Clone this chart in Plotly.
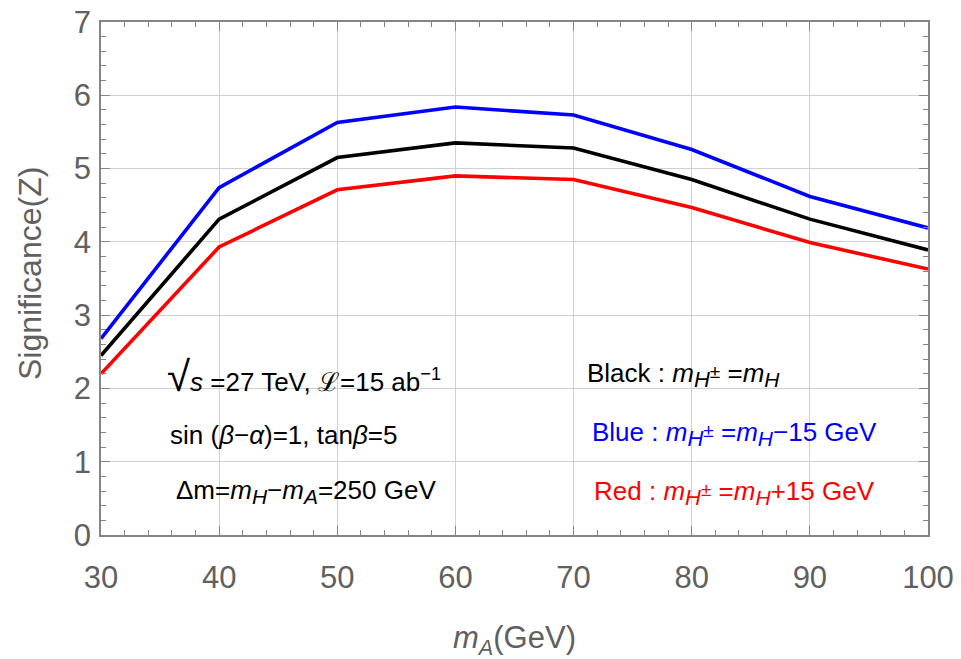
import plotly.graph_objects as go

m_A = [30, 40, 50, 60, 70, 80, 90, 100]
z_black = [2.45, 4.31, 5.15, 5.35, 5.28, 4.85, 4.31, 3.89]
z_blue = [2.68, 4.74, 5.63, 5.84, 5.73, 5.26, 4.62, 4.19]
z_red = [2.20, 3.93, 4.71, 4.90, 4.85, 4.47, 3.99, 3.63]

FONT = "Liberation Sans, Arial, sans-serif"
GRAY = "#606060"
AX = "#858585"

fig = go.Figure()
for y, c in [(z_blue, "#0000ff"), (z_black, "#000000"), (z_red, "#ff0000")]:
    fig.add_trace(go.Scatter(x=m_A, y=y, mode="lines",
                             line=dict(color=c, width=3.6), showlegend=False))


def sub(t):
    return "<sub><span style='font-size:21px'>" + t + "</span></sub>"


mHpm = "<i>m</i><sub><span style='font-size:22px'><i>H</i><sup><span style='font-size:19px'>±</span></sup></span></sub>"
mH = "<i>m</i>" + sub("<i>H</i>")
mA = "<i>m</i>" + sub("<i>A</i>")

ann = [
    (35.4, 2.16, "<span style='font-size:42px'>√</span><i>s</i> =27 TeV, ℒ=15 ab<sup>−1</sup>", "black"),
    (35.65, 1.36, "sin (<i>β</i>−<i>α</i>)=1, tan<i>β</i>=5", "black"),
    (36.2, 0.60, "Δm=" + mH + "−" + mA + "=250 GeV", "black"),
    (70.95, 2.18, "Black : " + mHpm + " =" + mH, "black"),
    (71.4, 1.38, "Blue : " + mHpm + " =" + mH + "−15 GeV", "#0000ff"),
    (71.6, 0.57, "Red : " + mHpm + " =" + mH + "+15 GeV", "#ff0000"),
]
for x, y, t, c in ann:
    fig.add_annotation(x=x, y=y, text=t, showarrow=False, xanchor="left",
                       yanchor="middle", font=dict(family=FONT, size=26, color=c))

# axis titles
fig.add_annotation(x=0.5, y=-0.205, xref="paper", yref="paper", showarrow=False,
                   text="<i>m</i><sub><i>A</i></sub>(GeV)", yanchor="middle",
                   font=dict(family=FONT, size=31, color=GRAY))
fig.add_annotation(x=-0.085, y=0.51, xref="paper", yref="paper", showarrow=False,
                   text="Significance(Z)", textangle=-90, xanchor="center", yanchor="middle",
                   font=dict(family=FONT, size=32, color=GRAY))

axis_common = dict(
    showline=True, linecolor=AX, linewidth=1.6, mirror="allticks",
    ticks="inside", ticklen=9, tickcolor=AX, tickwidth=1.3,
    showgrid=True, gridcolor="#d0d0d0", gridwidth=1, zeroline=False,
    tickfont=dict(family=FONT, size=31, color=GRAY), automargin=False,
    ticklabeloverflow="allow",
)
fig.update_xaxes(range=[30, 100], dtick=10, tick0=30, ticklabelstandoff=14,
                 minor=dict(ticks="inside", dtick=2, ticklen=5, tickcolor=AX, showgrid=False),
                 **axis_common)
fig.update_yaxes(range=[0, 7], dtick=1, ticklabelstandoff=2,
                 minor=dict(ticks="inside", dtick=0.2, ticklen=5, tickcolor=AX, showgrid=False),
                 **axis_common)
# the page body has an 8px margin, so the figure is offset by 8px
fig.update_layout(width=953, height=651, plot_bgcolor="white", paper_bgcolor="white",
                  margin=dict(l=93, r=33, t=14, b=124))
fig.write_html("out.html")
